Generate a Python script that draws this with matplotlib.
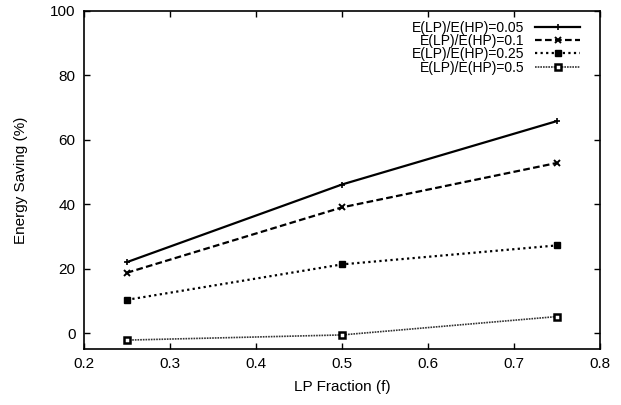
import matplotlib
matplotlib.use("Agg")
import matplotlib.pyplot as plt

plt.rcParams['font.family'] = ['Liberation Sans', 'DejaVu Sans']
plt.rcParams['font.size'] = 10

# LP fraction vs. energy saving for several energy ratios
lp_fraction = [0.25, 0.5, 0.75]
saving_005 = [22.0, 46.1, 65.8]
saving_01 = [18.7, 39.0, 52.8]
saving_025 = [10.3, 21.3, 27.2]
saving_05 = [-2.2, -0.6, 5.1]
labels = ['E(LP)/E(HP)=0.05', 'E(LP)/E(HP)=0.1', 'E(LP)/E(HP)=0.25', 'E(LP)/E(HP)=0.5']

fig = plt.figure(figsize=(6.21, 4.05), dpi=100)
ax = fig.add_axes([0.135, 0.138, 0.831, 0.835])

ax.plot(lp_fraction, saving_005, color='black', lw=1.6, ls='-',
        marker='+', ms=5, mew=1.2, label=labels[0])
ax.plot(lp_fraction, saving_01, color='black', lw=1.6, ls=(0, (3, 1.5)),
        marker='x', ms=4.5, mew=1.4, label=labels[1])
ax.plot(lp_fraction, saving_025, color='black', lw=1.6, ls=(0, (1, 1.5)),
        marker='s', ms=4.5, mfc='black', label=labels[2])
ax.plot(lp_fraction, saving_05, color='#333333', lw=1.2, ls=(0, (1, 0.6)),
        marker='s', ms=5, mfc='white', mec='black', mew=1.8, label=labels[3])

ax.set_xlim(0.2, 0.8)
ax.set_ylim(-5, 100)
ax.set_xticks([0.2, 0.3, 0.4, 0.5, 0.6, 0.7, 0.8])
ax.set_yticks([0, 20, 40, 60, 80, 100])
ax.tick_params(direction='in', top=True, right=True, length=4, width=1,
               labelsize=11, pad=6)
for s in ax.spines.values():
    s.set_linewidth(1.2)

ax.set_xlabel('LP Fraction (f)', fontsize=11, labelpad=6)
ax.set_ylabel('Energy Saving (%)', fontsize=11, labelpad=16)

ax.legend(loc='upper right', markerfirst=False, frameon=False, fontsize=10,
          handlelength=3.2, labelspacing=-0.05, handletextpad=0.8,
          borderaxespad=0.3, bbox_to_anchor=(0.98, 1.0))

fig.savefig('out.png', dpi=100)
